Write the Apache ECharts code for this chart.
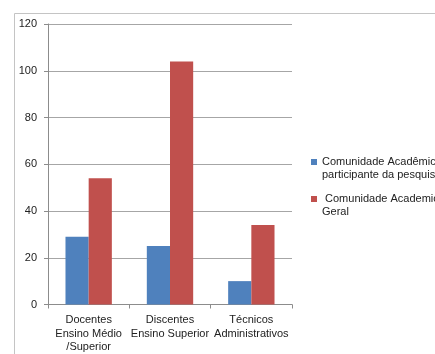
<!DOCTYPE html>
<html>
<head>
<meta charset="utf-8">
<script src="https://cdn.jsdelivr.net/npm/echarts@6/dist/echarts.min.js"></script>
<style>html,body{margin:0;padding:0;background:#fff;}#c{width:435px;height:354px;}</style>
</head>
<body>
<div id="c"></div>
<script>
var categories = ['Docentes\nEnsino Médio\n/Superior', 'Discentes\nEnsino Superior', 'Técnicos\nAdministrativos'];
var seriesNames = ['Comunidade Acadêmica\nparticipante da pesquisa', ' Comunidade Academica\nGeral'];
var participantes = [29, 25, 10];
var geral = [54, 104, 34];
var yTicks = [0, 20, 40, 60, 80, 100, 120];

var FONT = 'Liberation Sans, Arial, sans-serif';
var chart = echarts.init(document.getElementById('c'), null, {renderer: 'canvas'});
chart.setOption({
  animation: false,
  backgroundColor: '#fff',
  textStyle: {fontFamily: FONT},
  graphic: [{
    type: 'rect', left: 12, top: 11, silent: true,
    shape: {width: 440, height: 360},
    style: {fill: 'none', stroke: '#c4c4c4', lineWidth: 1}
  }],
  grid: {left: 48, top: 24, right: 143, bottom: 49, containLabel: false},
  legend: {
    orient: 'vertical', left: 311, top: 142.5, padding: 0,
    itemWidth: 6, itemHeight: 6, itemGap: -2,
    icon: 'rect',
    formatter: function (name) { return '\n' + name; },
    textStyle: {fontSize: 11, color: '#222', lineHeight: 13, fontFamily: FONT},
    data: seriesNames
  },
  xAxis: {
    type: 'category', data: categories,
    axisLine: {lineStyle: {color: '#8c8c8c'}},
    axisTick: {show: true, length: 4, lineStyle: {color: '#8c8c8c'}},
    axisLabel: {fontSize: 11, color: '#222', lineHeight: 13.5, margin: 9, interval: 0, fontFamily: FONT}
  },
  yAxis: {
    type: 'value', min: yTicks[0], max: yTicks[yTicks.length - 1], interval: 20,
    axisLine: {show: true, lineStyle: {color: '#8c8c8c'}},
    axisTick: {show: true, length: 4, lineStyle: {color: '#8c8c8c'}},
    splitLine: {show: true, lineStyle: {color: '#a6a6a6'}},
    axisLabel: {fontSize: 11, color: '#222', margin: 11, fontFamily: FONT}
  },
  series: [
    {name: seriesNames[0], type: 'bar', data: participantes, barGap: '0%', barCategoryGap: '43%',
     itemStyle: {color: '#4F81BD'}},
    {name: seriesNames[1], type: 'bar', data: geral, barGap: '0%', barCategoryGap: '43%',
     itemStyle: {color: '#C0504D'}}
  ]
});
</script>
</body>
</html>
